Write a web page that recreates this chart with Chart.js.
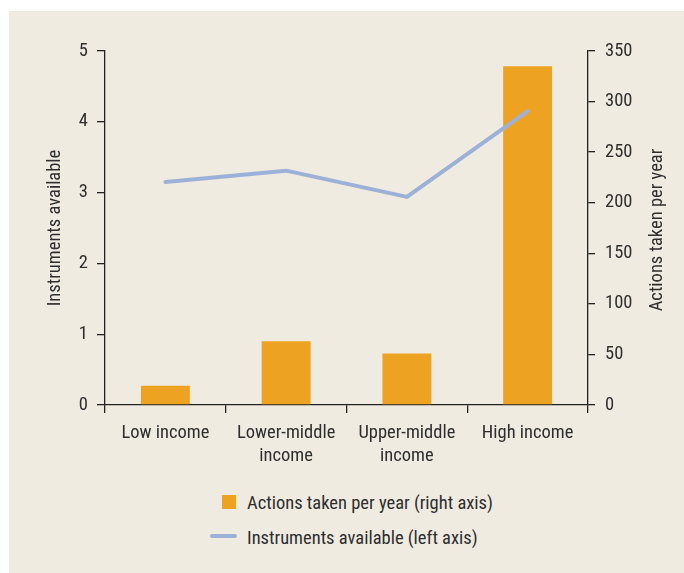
<!DOCTYPE html>
<html>
<head>
<meta charset="utf-8">
<script src="https://cdn.jsdelivr.net/npm/chart.js@4/dist/chart.umd.min.js"></script>
<style>
  html, body { margin: 0; padding: 0; background: #ffffff; }
  body { width: 684px; height: 573px; position: relative; overflow: hidden; }
  #panel { position: absolute; left: 9px; top: 11px; width: 675px; height: 562px; background: #efebe1; }
  #wrap { position: absolute; left: 0; top: 0; width: 684px; height: 480px; }
  #legend { position: absolute; left: 0; top: 0; font-family: "Roboto Condensed", Roboto, sans-serif; font-size: 18.5px; color: #2e2e2e; }
  .item { position: absolute; white-space: nowrap; line-height: 20px; }
</style>
</head>
<body>
<div id="panel"></div>
<div id="wrap"><canvas id="c" width="684" height="480"></canvas></div>
<div id="legend"></div>
<script>
const categories = [["Low income"], ["Lower-middle", "income"], ["Upper-middle", "income"], ["High income"]];
const actionsPerYear = [19, 63, 51, 335];
const instrumentsAvailable = [3.15, 3.31, 2.94, 4.15];
const leftTicks = [0, 1, 2, 3, 4, 5];
const rightTicks = [0, 50, 100, 150, 200, 250, 300, 350];
const leftTitle = 'Instruments available';
const rightTitle = 'Actions taken per year';

const FONT = '"Roboto Condensed", Roboto, sans-serif';
const FS = 18.5;
const TEXT = '#2e2e2e';
const AXIS = '#222222';
const BAR = '#eda321';
const LINE = '#9bb1d8';

// Right-axis title reads bottom-to-top, as in the reference
const rightTitlePlugin = {
  id: 'rightTitle',
  afterDraw(chart) {
    const s = chart.scales.yR;
    const ctx = chart.ctx;
    ctx.save();
    ctx.translate(657, (s.top + s.bottom) / 2 + 2);
    ctx.rotate(-Math.PI / 2);
    ctx.font = FS + 'px ' + FONT;
    ctx.fillStyle = TEXT;
    ctx.textAlign = 'center';
    ctx.textBaseline = 'middle';
    ctx.fillText(rightTitle, 0, 0);
    ctx.restore();
  }
};

const chart = new Chart(document.getElementById('c'), {
  data: {
    labels: categories,
    datasets: [
      {
        type: 'line', label: 'Instruments available (left axis)', data: instrumentsAvailable,
        yAxisID: 'yL', borderColor: LINE, backgroundColor: LINE, borderWidth: 4,
        pointRadius: 0, tension: 0, borderCapStyle: 'round', borderJoinStyle: 'round', order: 0
      },
      {
        type: 'bar', label: 'Actions taken per year (right axis)', data: actionsPerYear,
        yAxisID: 'yR', backgroundColor: BAR, borderWidth: 0,
        barPercentage: 0.405, categoryPercentage: 1.0, order: 1
      }
    ]
  },
  options: {
    responsive: false, animation: false, devicePixelRatio: 1,
    layout: { padding: { top: 51, left: 0, right: 0, bottom: 0 } },
    plugins: { legend: { display: false }, tooltip: { enabled: false } },
    scales: {
      x: {
        offset: true,
        grid: { display: true, drawOnChartArea: false, drawTicks: true, tickLength: 8, color: AXIS, lineWidth: 1.3, offset: true },
        border: { display: true, color: AXIS, width: 1.3 },
        ticks: { color: TEXT, font: { family: FONT, size: FS, lineHeight: 1.25 }, padding: 9, maxRotation: 0, autoSkip: false },
        afterFit: s => { s.height = 75; }
      },
      yL: {
        position: 'left', min: 0, max: 5,
        afterBuildTicks: s => { s.ticks = leftTicks.map(v => ({ value: v })); },
        grid: { display: true, drawOnChartArea: false, drawTicks: true, tickLength: 8, color: AXIS, lineWidth: 1.3 },
        border: { display: true, color: AXIS, width: 1.3 },
        ticks: { color: TEXT, font: { family: FONT, size: FS }, padding: 9 },
        title: { display: true, text: leftTitle, color: TEXT, font: { family: FONT, size: FS }, padding: { top: 44, bottom: 0 } },
        afterFit: s => { s.width = 105; }
      },
      yR: {
        position: 'right', min: 0, max: 350,
        afterBuildTicks: s => { s.ticks = rightTicks.map(v => ({ value: v })); },
        grid: { display: true, drawOnChartArea: false, drawTicks: true, tickLength: 7, color: AXIS, lineWidth: 1.3 },
        border: { display: true, color: AXIS, width: 1.3 },
        ticks: { color: TEXT, font: { family: FONT, size: FS }, padding: 10 },
        title: { display: false },
        afterFit: s => { s.width = 96; }
      }
    }
  },
  plugins: [rightTitlePlugin]
});

// HTML legend built from the chart's datasets
const legend = document.getElementById('legend');
const barDs = chart.data.datasets[1];
const lineDs = chart.data.datasets[0];
legend.innerHTML =
  '<div class="item" style="left:222px;top:493px;"><span style="position:absolute;left:0;top:2px;width:14px;height:14px;background:' + barDs.backgroundColor + '"></span><span style="position:absolute;left:25px;top:0;">' + barDs.label + '</span></div>' +
  '<div class="item" style="left:210px;top:528px;"><span style="position:absolute;left:0;top:6px;width:27px;height:4px;border-radius:2px;background:' + lineDs.borderColor + '"></span><span style="position:absolute;left:37px;top:0;">' + lineDs.label + '</span></div>';
</script>
</body>
</html>
